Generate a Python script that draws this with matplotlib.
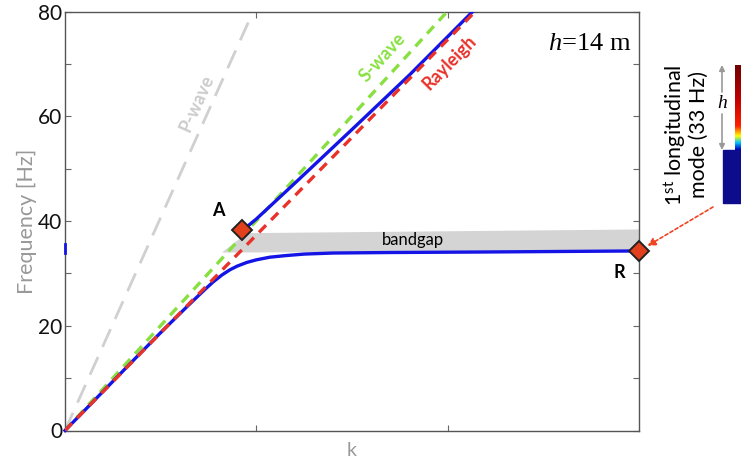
import numpy as np
import matplotlib
matplotlib.use("Agg")
import matplotlib.pyplot as plt
from matplotlib.colors import LinearSegmentedColormap
from matplotlib.patches import Rectangle

plt.rcParams['font.family'] = ['Lato', 'DejaVu Sans']
plt.rcParams['mathtext.fontset'] = 'custom'
plt.rcParams['mathtext.rm'] = 'Lato'
plt.rcParams['mathtext.it'] = 'Liberation Serif:italic'

# ----- data -----
# reference wave lines: (k, f) end points
pwave_k = [0.0, 0.983]
pwave_f = [0.0, 80.0]
swave_k = [0.0, 1.997]
swave_f = [0.0, 80.0]
rayl_k = [0.0, 2.143]
rayl_f = [0.0, 80.0]

# lower dispersion branch
low_k = [0.0, 0.2, 0.4, 0.5, 0.6, 0.65, 0.69, 0.73, 0.775, 0.82, 0.862, 0.9,
         0.95, 1.0, 1.07, 1.15, 1.25, 1.4, 1.7, 2.2, 2.6, 3.0]
low_f = [0.0, 7.5, 15.0, 18.7, 22.3, 24.1, 25.5, 26.9, 28.4, 29.7, 30.7, 31.4,
         32.1, 32.6, 33.1, 33.4, 33.7, 33.9, 34.0, 34.1, 34.2, 34.3]

# upper dispersion branch (from point A)
up_k = [0.94, 1.0, 1.2, 1.5, 1.8, 2.13]
up_f = [38.6, 40.4, 47.2, 57.5, 67.9, 80.0]

# bandgap polygon
gap_k = [0.82, 0.95, 3.0, 3.0]
gap_f = [34.0, 37.7, 38.4, 34.2]

# marked points
pt_A = (0.924, 38.3)
pt_R = (3.0, 34.3)

W, H = 741, 462


def px(x, y):
    return x / W, 1 - y / H


fig = plt.figure(figsize=(W / 100, H / 100), dpi=100)
ax = fig.add_axes([65 / W, 1 - 430.5 / H, (639 - 65) / W, (430.5 - 11.7) / H])

ax.fill(gap_k, gap_f, color='#d4d4d4', lw=0, zorder=1)

ax.plot(pwave_k, pwave_f, color='#d0d0d0', lw=2, dashes=(7, 4), zorder=2)
ax.plot(swave_k, swave_f, color='#88e040', lw=2.4, dashes=(3, 2.2), zorder=3)
ax.plot(low_k, low_f, color='#1414e6', lw=2.4, zorder=4, clip_on=False)
ax.plot(up_k, up_f, color='#1414e6', lw=2.4, zorder=4)
ax.plot(rayl_k, rayl_f, color='#e8322a', lw=2.4, dashes=(3, 2.2), zorder=5)
ax.plot([0, 0], [34.0, 35.6], color='#1414e6', lw=2, clip_on=False, zorder=6)

for p in (pt_A, pt_R):
    ax.plot(*p, marker='D', ms=10, color='#e2401c', mec='#222222', mew=1.4,
            clip_on=False, zorder=7)

ax.set_xlim(0, 3)
ax.set_ylim(0, 80)
ax.set_xticks([1, 2])
ax.set_xticklabels([])
ax.set_yticks(range(0, 81, 10))
ax.set_yticklabels([str(v) if v % 20 == 0 else '' for v in range(0, 81, 10)])
ax.tick_params(direction='in', length=4, width=0.8, color='#666666',
               top=True, right=True, labelsize=15, pad=2, labelcolor='#111111')
for s in ax.spines.values():
    s.set_color('#555555')
    s.set_linewidth(1.0)

ax.set_ylabel('Frequency [Hz]', color='#999999', fontsize=15.5, labelpad=1)
ax.set_xlabel('k', color='#999999', fontsize=14, labelpad=6)

# in-plot labels
ax.text(0.69, 62.6, 'P-wave', color='#cccccc', fontsize=13, fontweight='bold',
        rotation=66, ha='center', va='center')
ax.text(1.662, 71.2, 'S-wave', color='#88e040', fontsize=13, fontweight='bold',
        rotation=47.5, ha='center', va='center')
ax.text(2.007, 70.2, 'Rayleigh', color='#e8322a', fontsize=13, fontweight='bold',
        rotation=45.5, ha='center', va='center')
ax.text(0.80, 42.1, 'A', fontsize=13, fontweight='bold', ha='center', va='center')
ax.text(2.896, 30.1, 'R', fontsize=13, fontweight='bold', ha='center', va='center')
ax.text(1.82, 36.4, 'bandgap', fontsize=12, ha='center', va='center')
ax.text(2.96, 73.8, '$h$=14 m', family='Liberation Serif', fontsize=19,
        ha='right', va='center')

# right-hand mode sketch
fig.text(*px(686, 135), '1$^{\\rm st}$ longitudinal\nmode (33 Hz)', rotation=90,
         fontsize=15.5, ha='center', va='center', linespacing=1.05)
ax.annotate('', xy=pt_R, xycoords='data', xytext=px(713, 207),
            textcoords='figure fraction',
            arrowprops=dict(arrowstyle='-|>', color='#ee4422', lw=1.2,
                            linestyle=(0, (2, 1.5)), shrinkA=0, shrinkB=7,
                            mutation_scale=12))

jet = LinearSegmentedColormap.from_list(
    'mode', [(0, '#0000c0'), (0.08, '#00c0ff'), (0.16, '#ffff00'),
             (0.28, '#ff2000'), (0.6, '#c00000'), (1, '#700000')])
cax = fig.add_axes([735 / W, 1 - 150 / H, 7 / W, 85 / H])
cax.imshow(np.linspace(1, 0, 100)[:, None], aspect='auto', cmap=jet)
cax.set_axis_off()
fig.patches.append(Rectangle(px(723, 203), 18 / W, 53 / H, color='#0c0c8c',
                             transform=fig.transFigure, figure=fig))
fig.text(*px(722, 103), '$h$', fontsize=14, ha='center', va='center')
for y0, y1 in ((92, 65), (114, 150)):
    fig.add_artist(plt.Annotation('', xy=px(722, y1), xycoords='figure fraction',
                                  xytext=px(722, y0), textcoords='figure fraction',
                                  arrowprops=dict(arrowstyle='-|>', color='#999999',
                                                  lw=1.2, mutation_scale=8,
                                                  shrinkA=0, shrinkB=0)))

fig.savefig('out.png', dpi=100)
